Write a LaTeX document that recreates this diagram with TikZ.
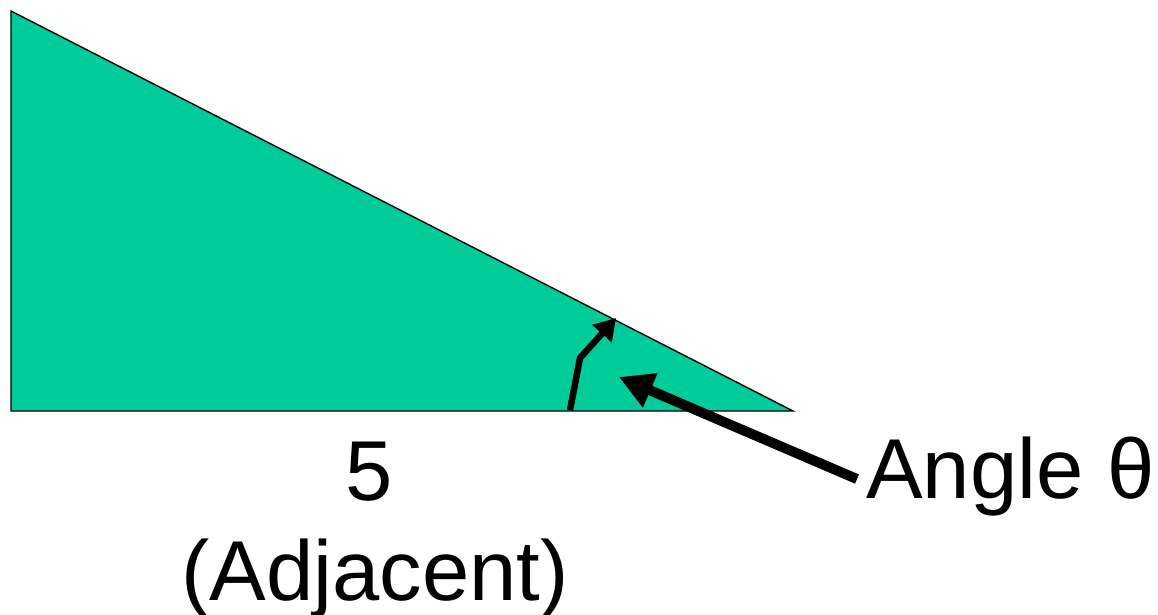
\documentclass[tikz,border=0pt]{standalone}
\usepackage{fontspec}
\setmainfont{Liberation Sans}
\usetikzlibrary{arrows.meta}
\definecolor{trigreen}{RGB}{0,204,153}
\tikzset{
  bigtext/.style={font=\fontsize{85}{100}\selectfont, inner sep=0pt, anchor=base},
  bigarrow/.style={line width=10pt, -{Triangle[length=34pt,width=35pt]}},
  smallarrow/.style={line width=6.5pt, -{Triangle[length=21pt,width=25pt]}}
}
\begin{document}
\begin{tikzpicture}[x=1pt,y=-1pt]
\useasboundingbox (0,0) rectangle (1158,614);
\coordinate (A) at (11,11);
\coordinate (B) at (11,411);
\coordinate (C) at (793,411);
\draw[fill=trigreen, line width=1.4pt, line join=miter] (A) -- (B) -- (C) -- cycle;
\node[bigtext] (five) at (369,500) {5};
\node[bigtext] (adj) at (375,600) {(Adjacent)};
\node[bigtext, anchor=base west] (ang) at (866,498) {Angle θ};
\coordinate (tip) at (619,377);
\draw[bigarrow] ([xshift=-9pt,yshift=-3pt]ang.west) -- (tip);
\coordinate (s0) at (570,410);
\coordinate (s1) at (580,358);
\coordinate (s2) at (616,318);
\draw[smallarrow] (s0) -- (s1) -- (s2);
\end{tikzpicture}
\end{document}
